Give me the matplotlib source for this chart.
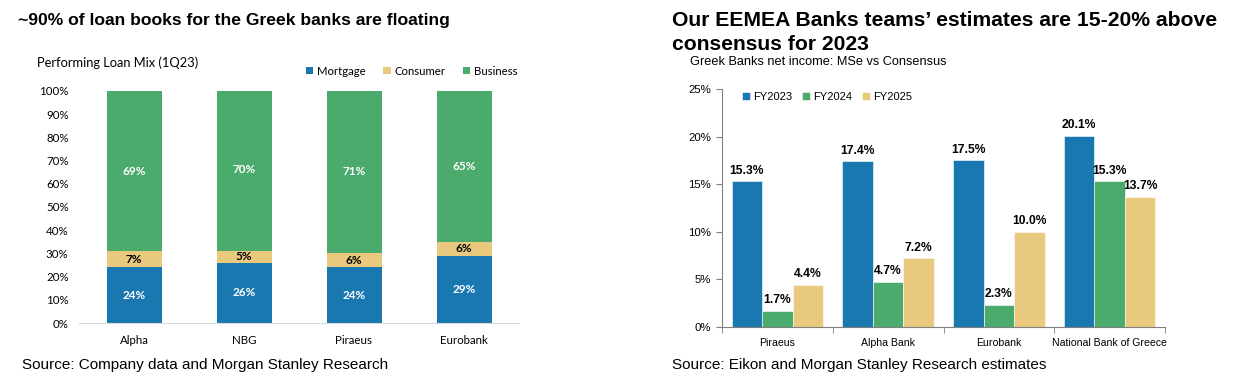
import numpy as np
import matplotlib
matplotlib.use("Agg")
import matplotlib.pyplot as plt
from matplotlib.ticker import FuncFormatter, FixedLocator

# Left chart data: performing loan mix (1Q23), %
banks_left = ["Alpha", "NBG", "Piraeus", "Eurobank"]
mortgage = [24, 26, 24, 29]
consumer = [7, 5, 6, 6]
business = [69, 70, 71, 65]

# Right chart data: MSe vs consensus net income, %
banks_right = ["Piraeus", "Alpha Bank", "Eurobank", "National Bank of Greece"]
fy2023 = [15.3, 17.4, 17.5, 20.1]
fy2024 = [1.7, 4.7, 2.3, 15.3]
fy2025 = [4.4, 7.2, 10.0, 13.7]

BLUE = "#1a78b0"
GREEN = "#4bab6d"
TAN = "#e9c97e"

CAL = ["Lato", "DejaVu Sans"]
ARIAL = ["Liberation Sans", "DejaVu Sans"]
NARROW = ["Liberation Sans Narrow", "Liberation Sans", "DejaVu Sans"]

fig = plt.figure(figsize=(12.36, 3.75), dpi=100)

# ---- titles and sources
fig.text(18 / 1236, 1 - 20 / 375, "~90% of loan books for the Greek banks are floating",
         family=ARIAL, weight="bold", fontsize=12.6, va="center", ha="left")
fig.text(672 / 1236, 1 - 21 / 375, "Our EEMEA Banks teams\u2019 estimates are 15-20% above",
         family=ARIAL, weight="bold", fontsize=15.2, va="center", ha="left")
fig.text(672 / 1236, 1 - 45 / 375, "consensus for 2023",
         family=ARIAL, weight="bold", fontsize=15.2, va="center", ha="left")
fig.text(22 / 1236, 1 - 365 / 375, "Source: Company data and Morgan Stanley Research",
         family=ARIAL, fontsize=11, va="center", ha="left")
fig.text(672 / 1236, 1 - 365 / 375, "Source: Eikon and Morgan Stanley Research estimates",
         family=ARIAL, fontsize=11, va="center", ha="left")

# ---- left: stacked bars
ax1 = fig.add_axes([79 / 1236, 1 - 323 / 375, 440 / 1236, 232 / 375])
x = np.arange(len(banks_left))
m = np.array(mortgage)
c = np.array(consumer)
b = np.array(business)
w = 0.5
ax1.bar(x, m, w, color=BLUE, label="Mortgage")
ax1.bar(x, c, w, bottom=m, color=TAN, label="Consumer")
ax1.bar(x, b, w, bottom=m + c, color=GREEN, label="Business")
for i in range(len(x)):
    ax1.text(x[i], m[i] / 2, f"{m[i]}%", ha="center", va="center", color="white",
             weight="bold", fontsize=8.5, family=CAL)
    ax1.text(x[i], m[i] + c[i] / 2, f"{c[i]}%", ha="center", va="center", color="black",
             weight="bold", fontsize=8.5, family=CAL)
    ax1.text(x[i], m[i] + c[i] + b[i] / 2, f"{b[i]}%", ha="center", va="center", color="white",
             weight="bold", fontsize=8.5, family=CAL)
ax1.set_xlim(-0.5, 3.5)
ax1.set_ylim(0, 100)
ax1.set_yticks(np.arange(0, 101, 10))
ax1.yaxis.set_major_formatter(FuncFormatter(lambda v, p: f"{v:.0f}%"))
ax1.set_xticks(x)
ax1.set_xticklabels(banks_left)
for s in ["top", "right", "left"]:
    ax1.spines[s].set_visible(False)
ax1.spines["bottom"].set_color("#d9d9d9")
ax1.tick_params(length=0, labelsize=8.3)
ax1.tick_params(axis="y", pad=7.5)
ax1.tick_params(axis="x", pad=9)
for lab in ax1.get_xticklabels() + ax1.get_yticklabels():
    lab.set_family(CAL)
    lab.set_color("black")
fig.text(37 / 1236, 1 - 63 / 375, "Performing Loan Mix (1Q23)", family=CAL, fontsize=9.3,
         va="center", ha="left")
ax1.legend(loc="center left", bbox_to_anchor=(0.516, 1.086), ncol=3, frameon=False,
           prop={"family": CAL, "size": 8.2}, handlelength=0.65, handleheight=0.65,
           handletextpad=0.3, columnspacing=1.55, borderaxespad=0, borderpad=0)

# ---- right: grouped bars
ax2 = fig.add_axes([722 / 1236, 1 - 327 / 375, 443 / 1236, 238 / 375])
xr = np.arange(len(banks_right))
bw = 0.275
series = [(fy2023, BLUE, "FY2023"), (fy2024, GREEN, "FY2024"), (fy2025, TAN, "FY2025")]
for k, (vals, col, name) in enumerate(series):
    pos = xr + (k - 1) * bw
    ax2.bar(pos, vals, bw, color=col, label=name, edgecolor="white", linewidth=0.4)
    for p, v in zip(pos, vals):
        ax2.text(p, v + 0.5, f"{v:.1f}%", ha="center", va="bottom", fontsize=8.7,
                 weight="bold", family=ARIAL)
ax2.set_xlim(-0.5, 3.5)
ax2.set_ylim(0, 25)
ax2.set_yticks(np.arange(0, 26, 5))
ax2.yaxis.set_major_formatter(FuncFormatter(lambda v, p: f"{v:.0f}%"))
ax2.set_xticks(xr)
ax2.set_xticklabels(banks_right)
ax2.xaxis.set_minor_locator(FixedLocator(np.arange(-0.5, 3.6, 1)))
ax2.tick_params(axis="x", which="major", length=0, pad=8, labelsize=7.6)
ax2.tick_params(axis="x", which="minor", length=4, direction="out", color="#808080")
ax2.tick_params(axis="y", length=4, direction="out", color="#808080", pad=4, labelsize=8.2)
for lab in ax2.get_xticklabels() + ax2.get_yticklabels():
    lab.set_family(NARROW)
for s in ["top", "right"]:
    ax2.spines[s].set_visible(False)
ax2.spines["left"].set_color("#808080")
ax2.spines["bottom"].set_color("#808080")
fig.text(690 / 1236, 1 - 62 / 375, "Greek Banks net income: MSe vs Consensus",
         family=NARROW, fontsize=9.2, va="center", ha="left")
ax2.legend(loc="center left", bbox_to_anchor=(0.045, 0.968), ncol=3, frameon=False,
           prop={"family": NARROW, "size": 8}, handlelength=0.7, handleheight=0.7,
           handletextpad=0.3, columnspacing=0.9, borderaxespad=0, borderpad=0)

fig.savefig("out.png", dpi=100)
